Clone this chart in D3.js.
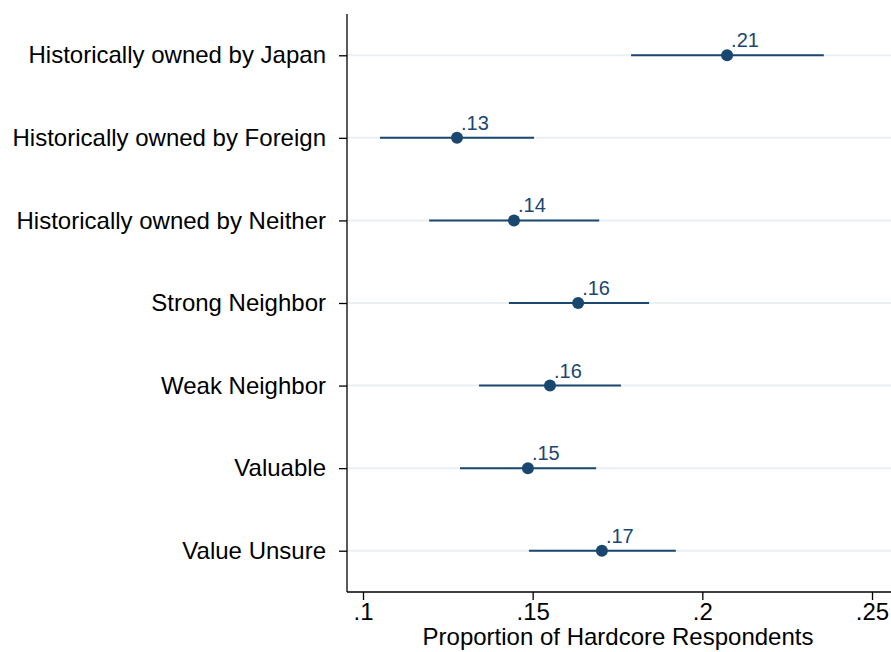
<!DOCTYPE html>
<html>
<head>
<meta charset="utf-8">
<script src="https://cdn.jsdelivr.net/npm/d3@7"></script>
<style>
  html, body { margin: 0; padding: 0; background: #fff; }
  svg { display: block; font-family: "Liberation Sans", Arial, sans-serif; }
</style>
</head>
<body>
<svg id="chart" width="891" height="652"></svg>
<script>
// Treatment conditions, top to bottom
const categories = [
  "Historically owned by Japan",
  "Historically owned by Foreign",
  "Historically owned by Neither",
  "Strong Neighbor",
  "Weak Neighbor",
  "Valuable",
  "Value Unsure"
];
// Estimated proportion of hardcore respondents
const estimates = [0.2073, 0.1277, 0.1445, 0.1634, 0.1551, 0.1486, 0.1704];
// 95% confidence bounds
const lowerCI = [0.1790, 0.1050, 0.1195, 0.1430, 0.1342, 0.1286, 0.1489];
const upperCI = [0.2358, 0.1504, 0.1696, 0.1843, 0.1760, 0.1687, 0.1922];
// X-axis tick values
const xTicks = [0.1, 0.15, 0.2, 0.25];

const rows = categories.map((c, i) => ({
  cat: c, est: estimates[i], lo: lowerCI[i], hi: upperCI[i]
}));

const plotLeft = 347, plotRight = 891, plotTop = 14, plotBottom = 592;
const navy = "#1a476f";
const font = "Liberation Sans, Arial, sans-serif";

const svg = d3.select("#chart");

const x = d3.scaleLinear().domain([0.1, 0.25]).range([363, 872]);
const y = d3.scalePoint().domain(categories).range([plotTop, plotBottom]).padding(0.5);

const fmt = v => d3.format(".2f")(v).replace(/^0/, "");
const fmtTick = v => d3.format("")(v).replace(/^0/, "");

// Horizontal gridlines at each category
svg.append("g")
  .selectAll("line")
  .data(categories)
  .join("line")
  .attr("x1", plotLeft).attr("x2", plotRight)
  .attr("y1", d => y(d)).attr("y2", d => y(d))
  .attr("stroke", "#eaeff1").attr("stroke-width", 2);

// Y axis with category labels
const yAxis = svg.append("g")
  .attr("transform", `translate(${plotLeft},0)`)
  .call(d3.axisLeft(y).tickSize(8).tickPadding(13));
yAxis.select(".domain").remove();
yAxis.append("line")
  .attr("x1", 0).attr("x2", 0).attr("y1", plotTop).attr("y2", plotBottom)
  .attr("stroke", "#000").attr("stroke-width", 1.3);
yAxis.selectAll(".tick line").attr("stroke", "#000").attr("stroke-width", 1.3);
yAxis.selectAll(".tick text")
  .attr("fill", "#000").style("font-size", "24px").style("font-family", font);

// X axis
const xAxis = svg.append("g")
  .attr("transform", `translate(0,${plotBottom})`)
  .call(d3.axisBottom(x).tickValues(xTicks).tickFormat(fmtTick).tickSize(8).tickPadding(3));
xAxis.select(".domain").remove();
xAxis.append("line")
  .attr("x1", plotLeft).attr("x2", plotRight).attr("y1", 0).attr("y2", 0)
  .attr("stroke", "#000").attr("stroke-width", 1.3);
xAxis.selectAll(".tick line").attr("stroke", "#000").attr("stroke-width", 1.3);
xAxis.selectAll(".tick text")
  .attr("fill", "#000").style("font-size", "24px").style("font-family", font);

svg.append("text")
  .attr("x", 618).attr("y", 645)
  .attr("text-anchor", "middle")
  .style("font-size", "24px").style("font-family", font)
  .text("Proportion of Hardcore Respondents");

// Confidence intervals
const g = svg.append("g");
g.selectAll("line.ci")
  .data(rows)
  .join("line")
  .attr("class", "ci")
  .attr("x1", d => x(d.lo)).attr("x2", d => x(d.hi))
  .attr("y1", d => y(d.cat)).attr("y2", d => y(d.cat))
  .attr("stroke", navy).attr("stroke-width", 2);

// Point estimates
g.selectAll("circle")
  .data(rows)
  .join("circle")
  .attr("cx", d => x(d.est)).attr("cy", d => y(d.cat))
  .attr("r", 6).attr("fill", navy);

// Value labels
g.selectAll("text.val")
  .data(rows)
  .join("text")
  .attr("class", "val")
  .attr("x", d => x(d.est) + 4).attr("y", d => y(d.cat) - 8)
  .attr("fill", navy)
  .style("font-size", "20px").style("font-family", font)
  .text(d => fmt(d.est));
</script>
</body>
</html>
